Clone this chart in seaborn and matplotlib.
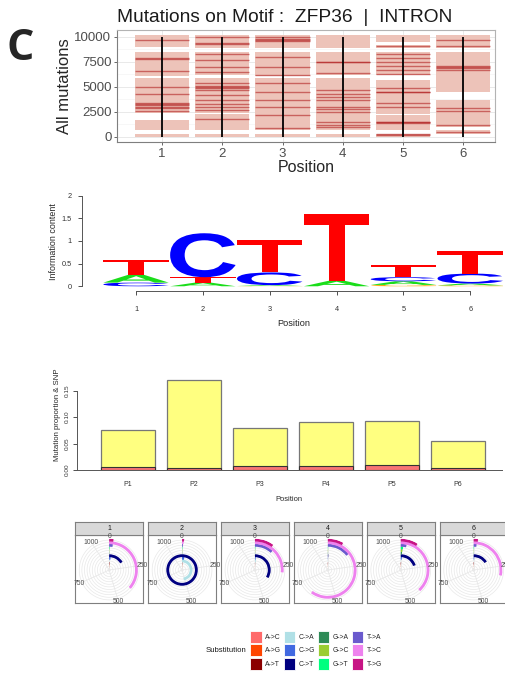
import numpy as np
import matplotlib
matplotlib.use("Agg")
import matplotlib.pyplot as plt
import seaborn as sns
from matplotlib.textpath import TextPath
from matplotlib.patches import PathPatch, Patch
from matplotlib.font_manager import FontProperties
import matplotlib.transforms as mtransforms

sns.set_style("white")
plt.rcParams['font.family'] = ['Liberation Sans', 'DejaVu Sans']

W, H = 505, 676

# ---- data: top panel (mutation tracks per motif position)
positions = [1, 2, 3, 4, 5, 6]
blocks = [
    [(9000, 10150), (6100, 8450), (2400, 5900), (650, 1700), (0, 300)],
    [(8850, 10150), (6150, 8450), (2400, 5850), (700, 2300), (0, 300)],
    [(8850, 10150), (6100, 8450), (700, 5900), (0, 300)],
    [(8900, 10150), (6150, 8450), (700, 5850), (0, 300)],
    [(9450, 10150), (8900, 9200), (6200, 8450), (2300, 5650), (700, 2150), (0, 300)],
    [(8900, 10150), (4500, 8450), (1000, 3700), (250, 700)],
]
lines = [
    [9630, 7830, 7750, 6600, 5000, 4230, 3330, 3250, 3170, 3000, 2830, 2600],
    [9970, 9330, 9270, 8270, 7670, 7000, 6500, 5330, 5070, 5000, 4900, 4670, 4170, 3670, 3270, 3000, 2670, 1730],
    [9970, 9770, 9700, 9530, 8000, 7000, 6170, 5330, 4500, 3670, 2930, 2170, 830],
    [7500, 7450, 6330, 4670, 4230, 4000, 3670, 3000, 2730, 2500, 1500, 1170, 1000],
    [9070, 8270, 7830, 7500, 7100, 6670, 6270, 4830, 4500, 4450, 3330, 3000, 1500, 1450, 1330, 200, 230],
    [9700, 9030, 7030, 6980, 6830, 6670, 2830, 2570, 1170, 500],
]

# ---- data: sequence logo (information content per nucleotide)
ic_A = [0.17, 0.08, 0.02, 0.12, 0.08, 0.04]
ic_C = [0.08, 0.97, 0.28, 0.00, 0.09, 0.22]
ic_G = [0.00, 0.00, 0.005, 0.00, 0.03, 0.02]
ic_T = [0.34, 0.12, 0.72, 1.48, 0.27, 0.50]

# ---- data: mutation proportion & SNP
bar_labels = ["P1", "P2", "P3", "P4", "P5", "P6"]
mut_prop = [0.076, 0.171, 0.079, 0.0905, 0.092, 0.054]
snp_prop = [0.0065, 0.004, 0.008, 0.008, 0.0095, 0.004]

# ---- data: substitution counts per position (polar panels)
subs = ["A->C", "A->G", "A->T", "C->A", "C->G", "C->T",
        "G->A", "G->C", "G->T", "T->A", "T->C", "T->G"]
sub_colors = ["#FF6A6A", "#FF4500", "#8B0000", "#B0E0E6", "#4169E1", "#000080",
              "#2E8B57", "#9ACD32", "#00FF7F", "#6A5ACD", "#EE82EE", "#C71585"]
counts_p1 = [4, 6, 10, 4, 20, 180, 2, 2, 4, 25, 400, 25]
counts_p2 = [4, 5, 6, 520, 30, 1100, 2, 2, 3, 6, 10, 12]
counts_p3 = [3, 3, 4, 15, 10, 370, 2, 2, 3, 130, 290, 110]
counts_p4 = [2, 3, 5, 2, 3, 5, 2, 2, 2, 160, 660, 90]
counts_p5 = [4, 5, 8, 4, 15, 220, 12, 15, 18, 40, 420, 100]
counts_p6 = [3, 4, 8, 3, 8, 175, 2, 2, 3, 20, 310, 25]
all_counts = [counts_p1, counts_p2, counts_p3, counts_p4, counts_p5, counts_p6]
theta_max = 1100
theta_ticks = [0, 250, 500, 750, 1000]

fig = plt.figure(figsize=(W / 100, H / 100), dpi=100)


def fax(left, top, width, height, **kw):
    return fig.add_axes([left / W, 1 - (top + height) / H, width / W, height / H], **kw)


fig.text(20 / W, 1 - 48 / H, "C", fontsize=31, fontweight="bold", ha="center", va="center",
         family=["Open Sans", "DejaVu Sans"])

# ================= Panel 1: mutations on motif =================
ax1 = fax(117, 30, 378, 112)
for pos, blk, ln in zip(positions, blocks, lines):
    for s, e in blk:
        ax1.bar(pos, e - s, bottom=s, width=0.9, color="#EDC3B9", linewidth=0, zorder=2)
    ax1.hlines(ln, pos - 0.45, pos + 0.45, color="#B22222", alpha=0.6, lw=1.0, zorder=3)
    ax1.vlines(pos, 0, 10000, color="black", lw=1.3, zorder=4)
ax1.set_xlim(0.25, 6.53)
ax1.set_ylim(-530, 10670)
ax1.set_yticks([0, 2500, 5000, 7500, 10000])
ax1.set_yticks([1250, 3750, 6250, 8750], minor=True)
ax1.set_xticks(positions)
ax1.grid(True, which="major", color="#E5E5E5", lw=0.6, zorder=0)
ax1.grid(True, which="minor", axis="y", color="#F2F2F2", lw=0.4, zorder=0)
ax1.set_axisbelow(True)
ax1.tick_params(axis="both", labelsize=9.5, colors="#4D4D4D", length=2.5, width=0.6, direction="out",
                left=True, bottom=True, pad=1.5)
ax1.tick_params(which="minor", length=0)
for sp in ax1.spines.values():
    sp.set_color("#B3B3B3")
    sp.set_linewidth(0.8)
ax1.spines["left"].set_color("#7F7F7F")
ax1.spines["bottom"].set_color("#7F7F7F")
ax1.set_ylabel("All mutations", fontsize=12, labelpad=2)
ax1.set_xlabel("Position", fontsize=11.5, labelpad=0)
fig.text(117 / W, 1 - 17 / H, "Mutations on Motif :  ZFP36  |  INTRON", fontsize=13.8,
         ha="left", va="center", color="#1A1A1A")

# ================= Panel 2: sequence logo =================
ax2 = fax(81.7, 192, 505 - 81.7, 98.8)
ax2.set_xlim(0.187, 6.52)
ax2.set_ylim(-0.1, 2.08)
fp = FontProperties(family="Liberation Sans", weight="bold")
logo_colors = {"A": "#1ADD1A", "C": "#0000FF", "G": "#FFA500", "T": "#FF0000"}


def draw_letter(ax, ch, x, y0, h):
    if h <= 0:
        return
    tp = TextPath((0, 0), ch, size=1, prop=fp)
    bb = tp.get_extents()
    tr = (mtransforms.Affine2D().translate(-bb.x0, -bb.y0)
          .scale(0.98 / bb.width, h / bb.height).translate(x - 0.49, y0))
    ax.add_patch(PathPatch(tr.transform_path(tp), facecolor=logo_colors[ch], lw=0))


for i, pos in enumerate(positions):
    stack = sorted([("A", ic_A[i]), ("C", ic_C[i]), ("G", ic_G[i]), ("T", ic_T[i])], key=lambda t: t[1])
    y0 = 0
    for ch, h in stack:
        draw_letter(ax2, ch, pos, y0, h)
        y0 += h
sns.despine(ax=ax2, top=True, right=True)
ax2.spines["left"].set_bounds(0, 2)
ax2.spines["bottom"].set_bounds(1, 6)
for sp in ("left", "bottom"):
    ax2.spines[sp].set_color("#555555")
    ax2.spines[sp].set_linewidth(0.7)
ax2.set_yticks([0, 0.5, 1, 1.5, 2])
ax2.set_yticklabels(["0", "0.5", "1", "1.5", "2"])
ax2.set_xticks(positions)
ax2.tick_params(axis="y", labelsize=5.3, length=3, width=0.6, colors="#333333", left=True, pad=4)
ax2.tick_params(axis="x", labelsize=5.3, length=3, width=0.6, colors="#333333", bottom=True, pad=8)
ax2.set_ylabel("Information content", fontsize=6.4, labelpad=3)
ax2.set_xlabel("Position", fontsize=6.6, labelpad=4)

# ================= Panel 3: mutation proportion & SNP =================
ax3 = fax(76.7, 359, 425.3, 111)
sns.barplot(x=bar_labels, y=mut_prop, color="#FFFF80", saturation=1, width=0.83,
            edgecolor="#777777", linewidth=0.9, errorbar=None, ax=ax3)
sns.barplot(x=bar_labels, y=snp_prop, color="#F87474", saturation=1, width=0.83,
            edgecolor="#333333", linewidth=0.8, errorbar=None, ax=ax3)
ax3.set_xlim(-0.777, 5.667)
ax3.set_ylim(0, 0.21)
sns.despine(ax=ax3, top=True, right=True)
ax3.spines["left"].set_bounds(0, 0.15)
for sp in ("left", "bottom"):
    ax3.spines[sp].set_color("#555555")
    ax3.spines[sp].set_linewidth(0.7)
ax3.set_yticks([0, 0.05, 0.10, 0.15])
ax3.set_yticklabels(["0.00", "0.05", "0.10", "0.15"], rotation=90, va="center")
ax3.tick_params(axis="y", labelsize=4.6, length=3, width=0.6, left=True, colors="#333333", pad=2)
ax3.tick_params(axis="x", labelsize=5, length=0, colors="#333333", pad=8)
ax3.set_ylabel("Mutation proportion & SNP", fontsize=5.6, labelpad=3)
ax3.set_xlabel("Position", fontsize=5.4, labelpad=6)

# ================= Panel 4: polar substitution panels =================
full = np.linspace(0, 2 * np.pi, 200)
for i, counts in enumerate(all_counts):
    left = 75 + 72.9 * i
    frame = fax(left, 535, 68.3, 68)
    frame.set_xticks([])
    frame.set_yticks([])
    frame.set_facecolor("white")
    for sp in frame.spines.values():
        sp.set_color("#7F7F7F")
        sp.set_linewidth(0.8)
    strip = fax(left, 521.7, 68.3, 13.3)
    strip.set_xticks([])
    strip.set_yticks([])
    strip.set_facecolor("#D9D9D9")
    for sp in strip.spines.values():
        sp.set_color("#7F7F7F")
        sp.set_linewidth(0.8)
    strip.text(0.5, 0.5, str(positions[i]), fontsize=5, ha="center", va="center",
               color="#1A1A1A", transform=strip.transAxes)

    cx, cy, R = left + 34.15, 570, 31.2
    pax = fax(cx - R, cy - R, 2 * R, 2 * R, projection="polar")
    pax.set_theta_zero_location("N")
    pax.set_theta_direction(-1)
    pax.set_ylim(0, 12)
    pax.set_xticks([])
    pax.set_yticks([])
    pax.grid(False)
    pax.spines["polar"].set_visible(False)
    pax.patch.set_alpha(0)
    for u in np.arange(0.5, 12, 1.0):
        pax.plot(full, [u] * len(full), color="#E8E8E8", lw=0.5, zorder=1)
    for t in theta_ticks:
        th = 2 * np.pi * t / theta_max
        pax.plot([th, th], [0, 11.5], color="#E8E8E8", lw=0.6, zorder=1)
    for u, (v, c) in enumerate(zip(counts, sub_colors)):
        pax.bar(0, 1.1, width=2 * np.pi * v / theta_max, bottom=u - 0.05, align="edge",
                color=c, lw=0, zorder=3)
    for t in theta_ticks:
        th = 2 * np.pi * t / theta_max
        txt = pax.text(th, 12.8, str(t), fontsize=4.9, ha="center", va="center", color="#4D4D4D")
        txt.set_clip_path(frame.patch)

# ================= legend =================
handles = [Patch(facecolor=c, edgecolor="white", linewidth=0.6) for c in sub_colors]
fig.legend(handles, subs, ncol=4, loc="upper left", bbox_to_anchor=(250 / W, 1 - 631 / H),
           frameon=False, fontsize=4.9, handlelength=1.7, handleheight=2.34,
           handletextpad=0.45, columnspacing=0.45, labelspacing=0.2, borderaxespad=0,
           borderpad=0)
fig.text(246 / W, 1 - 651 / H, "Substitution", fontsize=5.6, ha="right", va="center", color="#1A1A1A")

fig.savefig("out.png", dpi=100)
